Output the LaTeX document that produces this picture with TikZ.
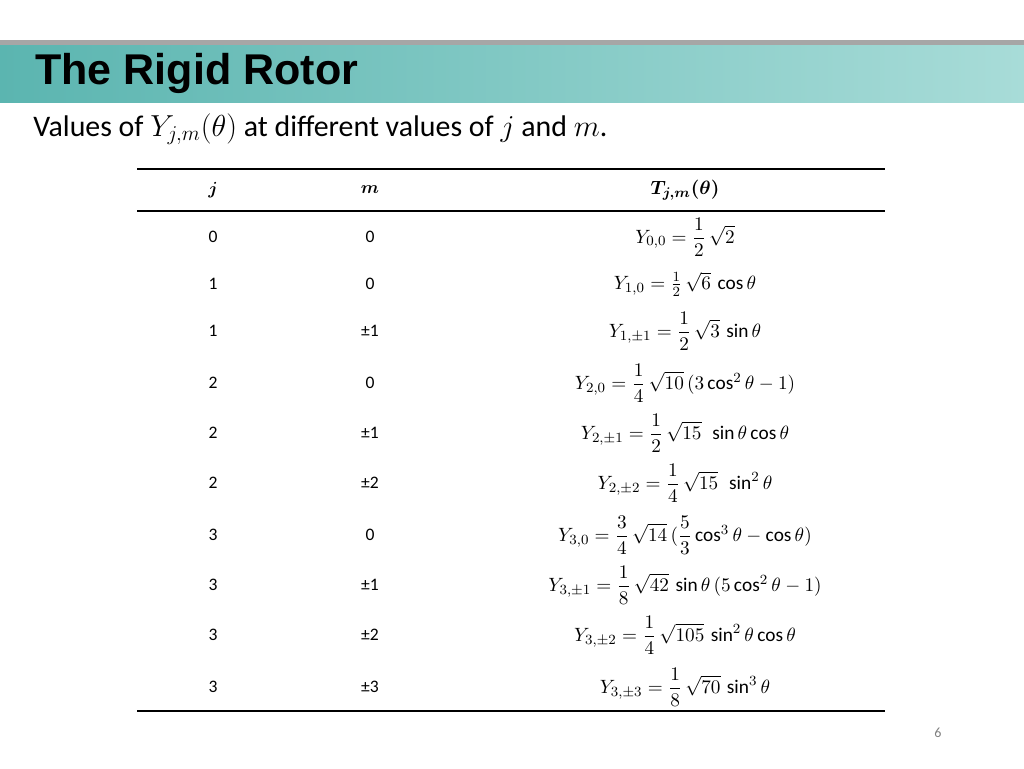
\documentclass[tikz,border=0pt]{standalone}
\usepackage{amsmath,amssymb}
\usepackage{fontspec}
\setmainfont{Carlito}
\newfontfamily\titlefont{Liberation Sans}
\usetikzlibrary{positioning}
\definecolor{barleft}{HTML}{5BB5B0}
\definecolor{barright}{HTML}{A8DCD8}
\tikzset{
  cell/.style  = {font=\fontsize{10}{12}\selectfont, inner sep=0pt},
  formula/.style = {font=\fontsize{11}{13}\selectfont, inner sep=0pt},
  rule/.style  = {line width=0.8pt, black}
}
\begin{document}
\begin{tikzpicture}[x=0.02cm, y=-0.02cm]
\useasboundingbox (0,0) rectangle (1024,768);
% title bar
\shade[left color=barleft, right color=barright] (0,44) rectangle (1024,102);
\fill[gray!70] (0,40) rectangle (1024,45);
\node[anchor=west, inner sep=0pt, font=\titlefont\bfseries\fontsize{24.5}{27}\selectfont] (title) at (35,73) {The Rigid Rotor};
\node[anchor=west, inner sep=0pt, font=\fontsize{17}{20}\selectfont] (sub) at (33,129)
  {Values of $Y_{j,m}(\theta)$ at different values of $j$ and $m$.};
% table rules
\coordinate (tl) at (137,169); \coordinate (tr) at (885,169);
\coordinate (hl) at (137,211); \coordinate (hr) at (885,211);
\coordinate (bl) at (137,711); \coordinate (br) at (885,711);
\draw[rule] (tl) -- (tr);
\draw[rule] (hl) -- (hr);
\draw[rule] (bl) -- (br);
% header
\node[cell] (hj) at (213,190) {$\boldsymbol{j}$};
\node[cell] (hm) at (370,190) {$\boldsymbol{m}$};
\node[formula] (hy) at (685,190) {$\boldsymbol{T_{j,m}(\theta)}$};
% rows
\foreach \y/\j/\m/\f [count=\i] in {
  237/0/0/{Y_{0,0}=\dfrac{1}{2}\,\sqrt{2}},
  284/1/0/{Y_{1,0}=\tfrac{1}{2}\,\sqrt{6}\,\cos\theta},
  331/1/±1/{Y_{1,\pm1}=\dfrac{1}{2}\,\sqrt{3}\,\sin\theta},
  383/2/0/{Y_{2,0}=\dfrac{1}{4}\,\sqrt{10}\,(3\cos^2\theta-1)},
  433/2/±1/{Y_{2,\pm1}=\dfrac{1}{2}\,\sqrt{15}\,\ \sin\theta\cos\theta},
  483/2/±2/{Y_{2,\pm2}=\dfrac{1}{4}\,\sqrt{15}\,\ \sin^2\theta},
  535/3/0/{Y_{3,0}=\dfrac{3}{4}\,\sqrt{14}\,(\dfrac{5}{3}\cos^3\theta-\cos\theta)},
  585/3/±1/{Y_{3,\pm1}=\dfrac{1}{8}\,\sqrt{42}\,\sin\theta\,(5\cos^2\theta-1)},
  635/3/±2/{Y_{3,\pm2}=\dfrac{1}{4}\,\sqrt{105}\,\sin^2\theta\cos\theta},
  687/3/±3/{Y_{3,\pm3}=\dfrac{1}{8}\,\sqrt{70}\,\sin^3\theta}}{
  \node[cell] (j\i) at (213,\y) {\j};
  \node[cell] (m\i) at (370,\y) {\m};
  \node[formula] (y\i) at (685,\y) {$\f$};
}
\node[cell, gray, font=\fontsize{8}{9}\selectfont] (page) at (938,733) {6};
\end{tikzpicture}
\end{document}
